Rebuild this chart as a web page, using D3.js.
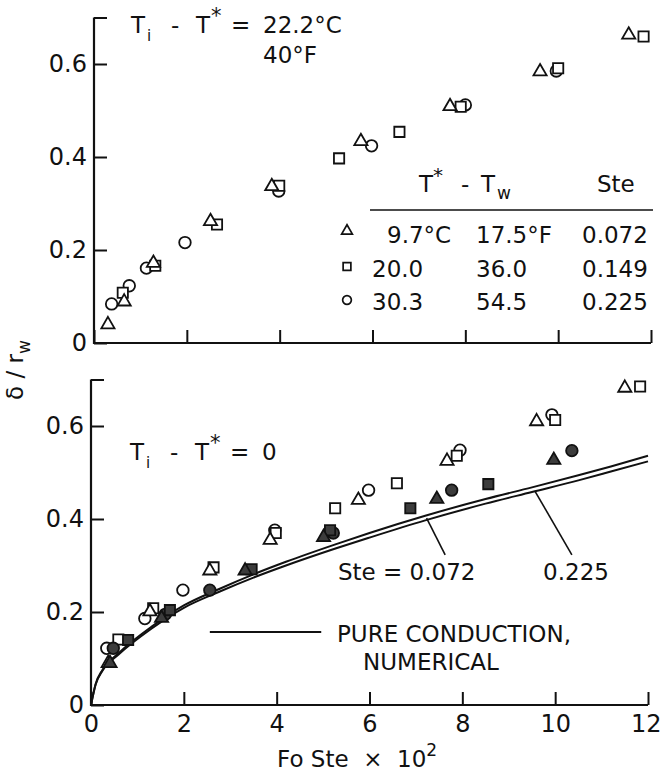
<!DOCTYPE html>
<html>
<head>
<meta charset="utf-8">
<script src="https://cdn.jsdelivr.net/npm/d3@7"></script>
<style>
  html, body { margin: 0; padding: 0; background: #fff; }
  svg { display: block; }
  text { font-family: "DejaVu Sans", sans-serif; fill: #111; white-space: pre; }
</style>
</head>
<body>
<svg id="chart" width="661" height="771"></svg>
<script>
// ---------------- DATA ----------------
// Upper panel: Ti - T* = 22.2 C (40 F), open symbols
const topTriangle = [[0.30,0.043],[0.65,0.092],[1.28,0.175],[2.51,0.265],[3.83,0.340],[5.75,0.437],[7.67,0.512],[9.61,0.587],[11.52,0.666]];
const topSquare   = [[0.62,0.108],[1.32,0.166],[2.65,0.255],[3.99,0.338],[5.28,0.397],[6.58,0.454],[7.90,0.508],[10.0,0.591],[11.84,0.659]];
const topCircle   = [[0.38,0.084],[0.76,0.123],[1.13,0.161],[1.96,0.216],[3.98,0.327],[5.98,0.424],[8.00,0.512],[9.96,0.585]];

// Lower panel: Ti - T* = 0, open symbols
const botTriangle = [[0.37,0.093],[1.27,0.204],[2.56,0.292],[3.86,0.358],[5.76,0.444],[7.67,0.528],[9.60,0.613],[11.50,0.685]];
const botCircle   = [[0.34,0.122],[1.16,0.186],[1.98,0.247],[3.96,0.376],[5.98,0.462],[7.95,0.548],[9.93,0.624]];
const botSquare   = [[0.59,0.141],[1.34,0.208],[2.64,0.296],[3.98,0.370],[5.26,0.423],[6.59,0.477],[7.88,0.536],[10.0,0.613],[11.83,0.685]];
// Lower panel: filled symbols
const botTriangleFilled = [[0.41,0.093],[1.52,0.190],[3.32,0.292],[5.01,0.364],[7.45,0.446],[9.97,0.530]];
const botSquareFilled   = [[0.80,0.140],[1.70,0.204],[3.46,0.292],[5.15,0.376],[6.88,0.423],[8.56,0.475]];
const botCircleFilled   = [[0.48,0.122],[1.60,0.195],[2.56,0.247],[5.22,0.370],[7.77,0.462],[10.36,0.547]];

// Pure conduction, numerical curves
const curveX      = [0, 0.1, 0.25, 0.6, 1.3, 2, 2.75, 3.5, 4.2, 5.25, 6, 7.2, 8.5, 9.5, 10.5, 11.2, 12];
const curveSte072 = [0, 0.045, 0.076, 0.112, 0.168, 0.214, 0.249, 0.281, 0.308, 0.345, 0.370, 0.407, 0.443, 0.468, 0.494, 0.513, 0.536];
const curveSte225 = [0, 0.044, 0.074, 0.109, 0.164, 0.209, 0.243, 0.274, 0.300, 0.336, 0.360, 0.397, 0.433, 0.458, 0.483, 0.502, 0.524];

// Ticks
const xTicks = [0, 2, 4, 6, 8, 10, 12];
const yTicks = [0, 0.2, 0.4, 0.6, 0.7];
const yTickLabels = ["0", "0.2", "0.4", "0.6", ""];

// Legend table
const legendRows = [
  {sym: "triangle", c: "9.7°C", f: "17.5°F", ste: "0.072"},
  {sym: "square",   c: "20.0",  f: "36.0",   ste: "0.149"},
  {sym: "circle",   c: "30.3",  f: "54.5",   ste: "0.225"}
];

// ---------------- DRAW ----------------
const svg = d3.select("#chart");
const W = 661, H = 771;
svg.append("rect").attr("width", W).attr("height", H).attr("fill", "#fff");

const panels = {
  top: { x: d3.scaleLinear().domain([0, 12]).range([94, 651]),
         y: d3.scaleLinear().domain([0, 0.7]).range([343, 17.5]), labels: false },
  bot: { x: d3.scaleLinear().domain([0, 12]).range([91, 648]),
         y: d3.scaleLinear().domain([0, 0.7]).range([705, 379.5]), labels: true }
};

function drawAxes(p) {
  const g = svg.append("g");
  const ax = d3.axisBottom(p.x).tickValues(xTicks).tickSize(-13).tickPadding(10)
    .tickFormat(p.labels ? (d => String(d)) : () => "");
  const gx = g.append("g").attr("transform", `translate(0,${p.y(0)})`).call(ax);
  const ay = d3.axisLeft(p.y).tickValues(yTicks).tickSize(-13).tickPadding(7)
    .tickFormat((d, i) => yTickLabels[i]);
  const gy = g.append("g").attr("transform", `translate(${p.x(0)},0)`).call(ay);
  [gx, gy].forEach(a => {
    a.select(".domain").remove();
    a.selectAll(".tick line").attr("stroke", "#111").attr("stroke-width", 2);
    a.selectAll(".tick text").attr("fill", "#111").style("font-size", "24px")
      .style("font-family", "DejaVu Sans, sans-serif");
  });
  // keep the last x label inside the frame
  gx.selectAll(".tick").filter(d => d === 12).select("text")
    .attr("text-anchor", "end").attr("x", 13);
  g.append("path")
    .attr("d", `M${p.x(0)},${p.y(0.7)}V${p.y(0)}H${p.x(12)}`)
    .attr("fill", "none").attr("stroke", "#111").attr("stroke-width", 2.2);
}

const sym = {
  triangle: d3.symbol().type(d3.symbolTriangle).size(75),
  square:   d3.symbol().type(d3.symbolSquare).size(105),
  circle:   d3.symbol().type(d3.symbolCircle).size(105)
};

function drawPoints(p, data, type, filled) {
  svg.append("g").selectAll("path").data(data).join("path")
    .attr("d", sym[type])
    .attr("transform", d => `translate(${p.x(d[0])},${p.y(d[1]) + (type === "triangle" ? 1.5 : 0)})`)
    .attr("fill", filled ? "#3c3c3c" : "#fff")
    .attr("stroke", "#111").attr("stroke-width", 1.8);
}

function tiLabel(x0, y0, valueText) {
  const t = svg.append("text").attr("y", y0).style("font-size", "23px");
  t.append("tspan").attr("x", x0).text("T");
  t.append("tspan").attr("x", x0 + 16).attr("dy", 8).style("font-size", "15px").text("i");
  t.append("tspan").attr("x", x0 + 40).attr("dy", -8).text("-");
  t.append("tspan").attr("x", x0 + 65).text("T");
  t.append("tspan").attr("x", x0 + 80).attr("dy", -10).style("font-size", "21px").text("*");
  t.append("tspan").attr("x", x0 + 100).attr("dy", 10).text("=");
  t.append("tspan").attr("x", x0 + 132).text(valueText);
  return t;
}

// ---- Top panel ----
const T = panels.top;
drawAxes(T);
drawPoints(T, topCircle, "circle", false);
drawPoints(T, topSquare, "square", false);
drawPoints(T, topTriangle, "triangle", false);

tiLabel(131, 33, "22.2°C");
svg.append("text").attr("x", 263).attr("y", 63).style("font-size", "23px").text("40°F");

// Legend table
const hdr = svg.append("text").attr("y", 192).style("font-size", "23px");
hdr.append("tspan").attr("x", 419).text("T");
hdr.append("tspan").attr("x", 433).attr("dy", -10).style("font-size", "20px").text("*");
hdr.append("tspan").attr("x", 461).attr("dy", 10).text("-");
hdr.append("tspan").attr("x", 481).text("T");
hdr.append("tspan").attr("x", 497).attr("dy", 7).style("font-size", "17px").text("w");
svg.append("text").attr("x", 597).attr("y", 192).style("font-size", "23px").text("Ste");
svg.append("line").attr("x1", 370).attr("x2", 653).attr("y1", 210).attr("y2", 210)
  .attr("stroke", "#111").attr("stroke-width", 1.6);

const rowY = d3.scalePoint().domain(legendRows.map(d => d.ste)).range([243, 310]);
const lg = svg.append("g").selectAll("g").data(legendRows).join("g")
  .attr("transform", d => `translate(0,${rowY(d.ste)})`);
lg.append("path")
  .attr("d", d => d3.symbol().type(d.sym === "triangle" ? d3.symbolTriangle : d.sym === "square" ? d3.symbolSquare : d3.symbolCircle)
    .size(d.sym === "triangle" ? 50 : 60)())
  .attr("transform", d => `translate(347,${d.sym === "triangle" ? -12 : -10})`)
  .attr("fill", "#fff").attr("stroke", "#111").attr("stroke-width", 1.7);
lg.append("text").attr("x", d => d.sym === "triangle" ? 387 : 372).style("font-size", "23px").text(d => d.c);
lg.append("text").attr("x", 476).style("font-size", "23px").text(d => d.f);
lg.append("text").attr("x", 582).style("font-size", "23px").text(d => d.ste);

// ---- Bottom panel ----
const B = panels.bot;
drawAxes(B);

const line = d3.line().x(d => B.x(d[0])).y(d => B.y(d[1])).curve(d3.curveMonotoneX);
[curveSte072, curveSte225].forEach(vals => {
  svg.append("path").datum(curveX.map((x, i) => [x, vals[i]]))
    .attr("d", line).attr("fill", "none").attr("stroke", "#111").attr("stroke-width", 2);
});

drawPoints(B, botCircle, "circle", false);
drawPoints(B, botSquare, "square", false);
drawPoints(B, botTriangle, "triangle", false);
drawPoints(B, botCircleFilled, "circle", true);
drawPoints(B, botSquareFilled, "square", true);
drawPoints(B, botTriangleFilled, "triangle", true);

tiLabel(130, 460, "0");

// Leader lines to curves
const leaders = [[[7.23, 0.402], [7.63, 0.323]], [[9.57, 0.459], [10.36, 0.323]]];
leaders.forEach(l => {
  svg.append("line")
    .attr("x1", B.x(l[0][0])).attr("y1", B.y(l[0][1]))
    .attr("x2", B.x(l[1][0])).attr("y2", B.y(l[1][1]))
    .attr("stroke", "#111").attr("stroke-width", 1.6);
});
svg.append("text").attr("x", B.x(5.32)).attr("y", B.y(0.268)).style("font-size", "23px").text("Ste = 0.072");
svg.append("text").attr("x", B.x(9.74)).attr("y", B.y(0.268)).style("font-size", "23px").text("0.225");

// Legend for curves
svg.append("line").attr("x1", B.x(2.56)).attr("x2", B.x(4.96))
  .attr("y1", B.y(0.157)).attr("y2", B.y(0.157))
  .attr("stroke", "#111").attr("stroke-width", 2);
svg.append("text").attr("x", B.x(5.3)).attr("y", 642).style("font-size", "23px").text("PURE CONDUCTION,");
svg.append("text").attr("x", B.x(5.86)).attr("y", 670).style("font-size", "23px").text("NUMERICAL");

// Axis titles
const xt = svg.append("text").attr("x", 277).attr("y", 767).style("font-size", "23px");
xt.append("tspan").text("Fo Ste  ×  10");
xt.append("tspan").text("2").attr("dy", -11).style("font-size", "17px");

const yt = svg.append("text").attr("transform", "translate(23,370) rotate(-90)")
  .attr("text-anchor", "middle").style("font-size", "23px");
yt.append("tspan").text("δ / r");
yt.append("tspan").text("w").attr("dy", 7).style("font-size", "17px");
</script>
</body>
</html>
